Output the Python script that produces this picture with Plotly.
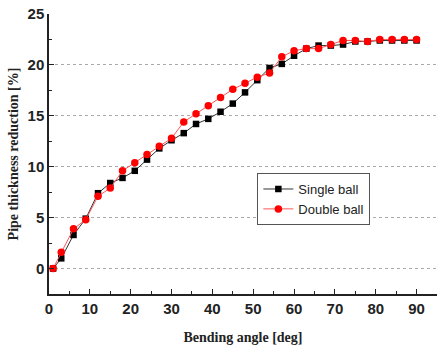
import plotly.graph_objects as go

angles = [1, 3, 6, 9, 12, 15, 18, 21, 24, 27, 30, 33, 36, 39, 42, 45, 48, 51, 54, 57,
          60, 63, 66, 69, 72, 75, 78, 81, 84, 87, 90]
single_ball = [0, 1.0, 3.3, 4.9, 7.4, 8.4, 8.9, 9.6, 10.7, 11.8, 12.6, 13.3, 14.2, 14.7,
               15.4, 16.2, 17.3, 18.5, 19.7, 20.1, 20.9, 21.6, 21.9, 21.9, 22.0, 22.3,
               22.3, 22.4, 22.4, 22.4, 22.4]
double_ball = [0, 1.6, 3.9, 4.8, 7.1, 7.9, 9.6, 10.4, 11.2, 12.0, 12.8, 14.4, 15.2, 16.0,
               16.8, 17.6, 18.2, 18.8, 19.2, 20.8, 21.4, 21.6, 21.6, 22.0, 22.4, 22.4,
               22.3, 22.5, 22.5, 22.5, 22.5]
x_ticks = [0, 10, 20, 30, 40, 50, 60, 70, 80, 90]
y_ticks = [0, 5, 10, 15, 20, 25]

fig = go.Figure()
fig.add_trace(go.Scatter(x=angles, y=single_ball, mode="lines+markers", name="Single ball",
                         line=dict(color="#333333", width=1),
                         marker=dict(symbol="square", size=6.5, color="black")))
fig.add_trace(go.Scatter(x=angles, y=double_ball, mode="lines+markers", name="Double ball",
                         line=dict(color="#ff5555", width=1),
                         marker=dict(symbol="circle", size=7.5, color="red")))

tickfont = dict(family="Liberation Sans, Arial", size=15, color="#222222", weight="bold")
titlefont = dict(family="Liberation Serif, Times New Roman", size=14, color="#222222", weight="bold")

fig.update_layout(
    width=442, height=348,
    margin=dict(l=49, r=5, t=11, b=52),
    plot_bgcolor="white", paper_bgcolor="white",
    showlegend=True,
    legend=dict(x=0.537, y=0.432, xanchor="left", yanchor="top",
                bgcolor="white", bordercolor="#555555", borderwidth=1,
                font=dict(family="Liberation Sans, Arial", size=13, color="#222222"),
                tracegroupgap=0, itemwidth=30),
    xaxis=dict(range=[0, 95], tickvals=x_ticks, ticks="inside", ticklen=5, tickcolor="#222222",
               showline=True, linecolor="#222222", linewidth=1.5, showgrid=False, zeroline=False,
               tickfont=tickfont,
               minor=dict(ticks="inside", ticklen=3, dtick=5, tick0=0, tickcolor="#222222", showgrid=False),
               title=dict(text="Bending angle [deg]", font=titlefont, standoff=16)),
    yaxis=dict(range=[-2.5, 25], tickvals=y_ticks, ticks="inside", ticklen=5, tickcolor="#222222",
               showline=True, linecolor="#222222", linewidth=1.5, zeroline=False,
               showgrid=True, gridcolor="#aaaaaa", griddash="dot", gridwidth=1,
               tickfont=tickfont,
               minor=dict(ticks="inside", ticklen=3, dtick=2.5, tick0=0, tickcolor="#222222", showgrid=False),
               title=dict(text="Pipe thickness reduction [%]", font=titlefont, standoff=6)),
)

fig.write_html("out.html")
